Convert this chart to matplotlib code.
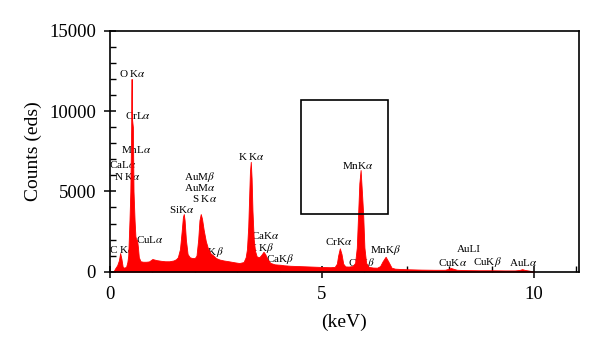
import matplotlib
matplotlib.use('Agg')
import matplotlib.pyplot as plt
from matplotlib.patches import Rectangle
from matplotlib.ticker import MultipleLocator
import numpy as np

plt.rcParams['font.family'] = ['Liberation Serif', 'DejaVu Serif']
plt.rcParams['mathtext.fontset'] = 'stix'

# EDS spectrum (keV, counts)
energy = [0.08, 0.12, 0.17, 0.21, 0.24, 0.27, 0.30, 0.33, 0.38, 0.41, 0.43,
          0.46, 0.48, 0.50, 0.505, 0.51, 0.515, 0.52, 0.54, 0.555, 0.58,
          0.60, 0.62, 0.64, 0.66, 0.68, 0.72, 0.78, 0.85, 0.92, 1.00, 1.10,
          1.20, 1.30, 1.40, 1.50, 1.56, 1.60, 1.65, 1.69, 1.72, 1.74, 1.76,
          1.79, 1.83, 1.88, 1.94, 2.00, 2.04, 2.08, 2.11, 2.14, 2.17, 2.21,
          2.26, 2.31, 2.37, 2.44, 2.50, 2.58, 2.68, 2.80, 2.95, 3.05, 3.15,
          3.20, 3.23, 3.26, 3.28, 3.30, 3.32, 3.34, 3.36, 3.39, 3.42, 3.46,
          3.52, 3.57, 3.62, 3.66, 3.71, 3.78, 3.88, 3.97, 4.03, 4.10, 4.25,
          4.45, 4.65, 4.85, 5.05, 5.20, 5.30, 5.35, 5.38, 5.42, 5.46, 5.50,
          5.55, 5.63, 5.72, 5.78, 5.82, 5.85, 5.88, 5.91, 5.94, 5.97, 6.00,
          6.04, 6.10, 6.20, 6.30, 6.37, 6.43, 6.50, 6.56, 6.64, 6.72, 6.85,
          7.05, 7.35, 7.65, 7.90, 7.98, 8.04, 8.10, 8.18, 8.40, 8.70, 9.00,
          9.30, 9.55, 9.66, 9.72, 9.78, 9.88, 10.00]
counts = [0, 200, 400, 700, 1160, 800, 300, 250, 300, 600, 1000,
          3200, 5000, 9000, 10870, 12000, 9800, 9500, 9000, 5000, 3200,
          2200, 2000, 1970, 1500, 900, 650, 620, 620, 640, 790, 720,
          680, 650, 650, 700, 780, 900, 1400, 2500, 3400, 3590, 3200,
          2000, 1100, 900, 850, 850, 1000, 2000, 3200, 3590, 3300, 2600,
          1900, 1450, 1150, 1000, 850, 760, 700, 650, 580, 540, 600,
          900, 1400, 2800, 4500, 6200, 6840, 5800, 3800, 2000, 1300, 950,
          900, 1050, 1240, 1100, 800, 550, 460, 440, 430, 400, 370,
          350, 330, 310, 290, 280, 300, 500, 1000, 1455, 1100, 500,
          330, 320, 350, 550, 1500, 3500, 5500, 6330, 5000, 3600, 1500,
          550, 300, 260, 250, 350, 650, 930, 650, 250, 190, 170,
          150, 130, 120, 120, 180, 230, 180, 120, 100, 90, 90,
          80, 80, 110, 160, 110, 70, 0]

# peak labels: text, keV, counts (centre of text)
label_text = ['O K$\\alpha$', 'CrL$\\alpha$', 'MnL$\\alpha$', 'CaL$\\alpha$', 'N K$\\alpha$',
              'C K$\\alpha$', 'CuL$\\alpha$', 'SiK$\\alpha$', 'AuM$\\beta$', 'AuM$\\alpha$',
              'S K$\\alpha$', 'S K$\\beta$', 'K K$\\alpha$', 'CaK$\\alpha$', 'K K$\\beta$',
              'CaK$\\beta$', 'CrK$\\alpha$', 'MnK$\\alpha$', 'CrK$\\beta$', 'MnK$\\beta$',
              'AuLI', 'CuK$\\alpha$', 'CuK$\\beta$', 'AuL$\\alpha$']
label_x = [0.52, 0.66, 0.62, 0.30, 0.41, 0.28, 0.94, 1.69, 2.11, 2.12,
           2.24, 2.40, 3.33, 3.67, 3.56, 4.01, 5.39, 5.85, 5.93, 6.49,
           8.47, 8.07, 8.91, 9.74]
label_y = [12360, 9750, 7630, 6700, 5950, 1410, 2030, 3900, 5910, 5220,
           4580, 1240, 7200, 2280, 1470, 790, 1870, 6640, 540, 1350,
           1410, 600, 600, 600]

# zoom box (keV, counts)
box_x = [4.50, 6.56]
box_y = [3590, 10680]

fig = plt.figure(figsize=(6, 3.53), dpi=100)
ax = fig.add_axes([0.1833, 0.2303, 0.965 - 0.1833, 0.913 - 0.2303])

ax.fill_between(energy, counts, 0, color='#ff0000', linewidth=0.6,
                edgecolor='#ff0000', zorder=2)

for t, x, y in zip(label_text, label_x, label_y):
    ax.text(x, y, t, ha='center', va='center', fontsize=8, zorder=1)

ax.add_patch(Rectangle((box_x[0], box_y[0]), box_x[1] - box_x[0],
                       box_y[1] - box_y[0], fill=False, edgecolor='black',
                       linewidth=1.2, zorder=3))

ax.set_xlim(0, 11.06)
ax.set_ylim(0, 15000)
ax.xaxis.set_major_locator(MultipleLocator(5))
ax.xaxis.set_minor_locator(MultipleLocator(1))
ax.yaxis.set_major_locator(MultipleLocator(5000))
ax.yaxis.set_minor_locator(MultipleLocator(1000))
ax.tick_params(which='major', direction='inout', length=8, width=1.1,
               labelsize=13.5, pad=6)
ax.tick_params(which='minor', direction='in', length=4, width=1)
for s in ax.spines.values():
    s.set_linewidth(1.2)

ax.set_xlabel('(keV)', fontsize=14, labelpad=8)
ax.set_ylabel('Counts (eds)', fontsize=14, labelpad=5)

plt.savefig('out.png', dpi=100)
